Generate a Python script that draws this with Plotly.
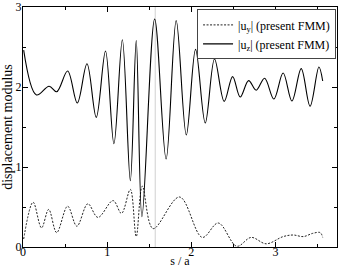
import math
import plotly.graph_objects as go

# |u_z| (solid) : extrema
uz_s = [0.008, 0.16, 0.31, 0.40, 0.53, 0.645, 0.76, 0.87, 0.98, 1.08, 1.18, 1.275, 1.345, 1.413,
        1.564, 1.70, 1.82, 1.94, 2.05, 2.165, 2.275, 2.39, 2.49, 2.58, 2.68, 2.77, 2.87, 2.98,
        3.09, 3.195, 3.305, 3.41, 3.515, 3.56]
uz_v = [2.46, 1.90, 2.01, 1.94, 2.20, 1.80, 2.29, 1.62, 2.45, 1.29, 2.59, 0.83, 2.58, 0.38,
        2.85, 1.10, 2.83, 1.40, 2.47, 1.55, 2.35, 1.82, 2.13, 1.875, 2.08, 1.96, 2.11, 1.85,
        2.175, 1.825, 2.23, 1.76, 2.25, 2.075]

# |u_y| (dashed)
uy_s = [0.008, 0.12, 0.22, 0.305, 0.40, 0.53, 0.64, 0.77, 0.89, 1.07, 1.17, 1.275, 1.345, 1.417,
        1.545, 1.86, 2.13, 2.32, 2.54, 2.71, 2.89, 3.09, 3.21, 3.33, 3.44, 3.53, 3.56]
uy_v = [0.10, 0.56, 0.24, 0.47, 0.18, 0.51, 0.26, 0.54, 0.37, 0.58, 0.42, 0.72, 0.13, 0.76,
        0.23, 0.625, 0.12, 0.30, 0.01, 0.12, 0.04, 0.13, 0.15, 0.13, 0.17, 0.18, 0.12]

vline_x = math.pi / 2
x_ticks = [0, 1, 2, 3]
y_ticks = [0, 1, 2, 3]

FONT = "Times New Roman, Liberation Serif, serif"

fig = go.Figure()
fig.add_trace(go.Scatter(x=uy_s, y=uy_v, mode="lines", name="|u<sub>y</sub>| (present FMM)",
                         line=dict(color="#222222", width=1, dash="2px,1.5px", shape="spline", smoothing=1.0)))
fig.add_trace(go.Scatter(x=uz_s, y=uz_v, mode="lines", name="|u<sub>z</sub>| (present FMM)",
                         line=dict(color="black", width=1.1, shape="spline", smoothing=1.0)))
fig.add_shape(type="line", x0=vline_x, x1=vline_x, y0=0, y1=1, xref="x", yref="paper",
              line=dict(color="#d0d0d0", width=1), layer="below")

axis_common = dict(showline=True, linecolor="black", linewidth=1, mirror="ticks",
                   ticks="inside", ticklen=5, tickcolor="black", tickwidth=1,
                   showgrid=False, zeroline=False, automargin=False,
                   tickfont=dict(family=FONT, size=12, color="black"),
                   minor=dict(dtick=0.5, ticks="inside", ticklen=3, tickcolor="black", showgrid=False))

fig.update_layout(
    template="none",
    width=340, height=268,
    margin=dict(l=23, r=3, t=7, b=21),
    paper_bgcolor="white", plot_bgcolor="white",
    font=dict(family=FONT, size=12, color="black"),
    xaxis=dict(range=[0, 3.73], tickvals=x_ticks, ticklabelstandoff=-6,
               title=dict(text="s / a", standoff=0, font=dict(family=FONT, size=12)), **axis_common),
    yaxis=dict(range=[0, 3], tickvals=y_ticks, ticklabelstandoff=-2,
               title=dict(text="displacement modulus", standoff=2, font=dict(family=FONT, size=14)), **axis_common),
    showlegend=True,
    legend=dict(x=0.997, y=0.99, xanchor="right", yanchor="top",
                bordercolor="#444444", borderwidth=1, bgcolor="white",
                font=dict(family=FONT, size=12), tracegroupgap=0,
                itemwidth=30),
)

fig.write_html("out.html")
